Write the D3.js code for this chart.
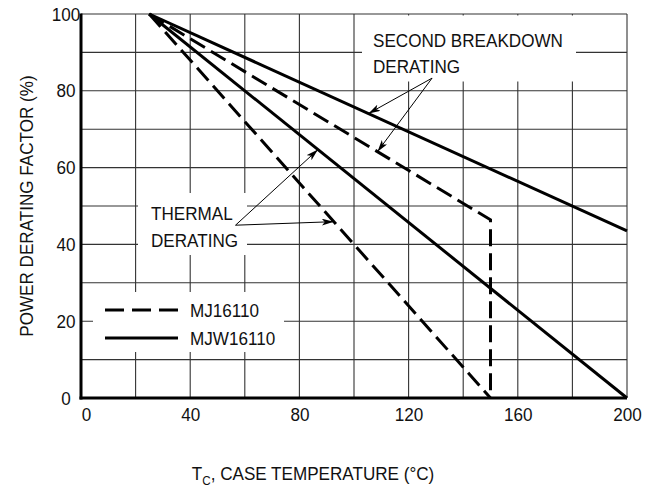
<!DOCTYPE html>
<html><head><meta charset="utf-8">
<script src="https://cdn.jsdelivr.net/npm/d3@7"></script>
<style>
html,body{margin:0;padding:0;background:#fff;}
svg text{font-family:"Liberation Sans",Arial,Helvetica,sans-serif;font-size:19px;fill:#111;}
</style></head>
<body><svg id="c" width="647" height="487"></svg>
<script>
// ---- data ----
const xTickVals = [0, 40, 80, 120, 160, 200];
const yTickVals = [0, 20, 40, 60, 80, 100];
const xGridVals = [0, 20, 40, 60, 80, 100, 120, 140, 160, 180, 200];
const yGridVals = [0, 10, 20, 30, 40, 50, 60, 70, 80, 90, 100];

// MJW16110 (solid) second breakdown derating
const mjwSBTemp = [25, 200];
const mjwSBPct  = [100, 43.5];
// MJ16110 (dashed) second breakdown derating
const mjSBTemp = [25, 150, 150];
const mjSBPct  = [100, 46.4, 0];
// MJW16110 (solid) thermal derating
const mjwThTemp = [25, 200];
const mjwThPct  = [100, 0];
// MJ16110 (dashed) thermal derating
const mjThTemp = [25, 150];
const mjThPct  = [100, 0];

const legendNames = ["MJ16110", "MJW16110"];

// ---- layout ----
const svg = d3.select("#c");
const x = d3.scaleLinear().domain([0, 200]).range([81, 627]);
const y = d3.scaleLinear().domain([0, 100]).range([398, 14]);
const SX = 0.9;
const DASH = "17,7";

function txt(g, px, py, s, anchor) {
  return g.append("text")
    .attr("transform", `translate(${px},${py}) scale(${SX},1)`)
    .attr("text-anchor", anchor || "start")
    .text(s);
}
function pts(T, P) { return T.map((t, i) => [t, P[i]]); }
function interp(T, P, t) {
  for (let i = 0; i < T.length - 1; i++) {
    if (t >= T[i] && t <= T[i + 1] && T[i + 1] !== T[i]) {
      const f = (t - T[i]) / (T[i + 1] - T[i]);
      return P[i] + f * (P[i + 1] - P[i]);
    }
  }
  return P[P.length - 1];
}

// grid
const grid = svg.append("g").attr("stroke", "#333").attr("stroke-width", 1.1);
grid.selectAll(".gx").data(xGridVals).join("line")
  .attr("x1", d => x(d)).attr("x2", d => x(d)).attr("y1", y(0)).attr("y2", y(100));
grid.selectAll(".gy").data(yGridVals).join("line")
  .attr("y1", d => y(d)).attr("y2", d => y(d)).attr("x1", x(0)).attr("x2", x(200));

// white label boxes
const boxes = svg.append("g").attr("fill", "#fff");
boxes.append("rect").attr("x", 362).attr("y", 15.5).attr("width", 214).attr("height", 66);
boxes.append("rect").attr("x", 138).attr("y", 193).attr("width", 109).attr("height", 62);
boxes.append("rect").attr("x", 93).attr("y", 292).attr("width", 191).attr("height", 60);

// axes lines
svg.append("line").attr("x1", x(0)).attr("x2", x(0)).attr("y1", y(100)-0.5).attr("y2", y(0)+1.5)
  .attr("stroke", "#000").attr("stroke-width", 3);
svg.append("line").attr("x1", x(0)-1.5).attr("x2", x(200)).attr("y1", y(0)).attr("y2", y(0))
  .attr("stroke", "#000").attr("stroke-width", 3);

// tick labels via axes
const xa = svg.append("g").attr("transform", `translate(0,${y(0)})`)
  .call(d3.axisBottom(x).tickValues(xTickVals).tickSize(0).tickPadding(10).tickFormat(d3.format("d")));
xa.select(".domain").remove();
xa.selectAll("text").attr("font-size", null).attr("font-family", null)
  .attr("transform", d => `translate(${d === 0 ? 5 : 0},0) scale(${SX},1)`);
xa.attr("font-size", null).attr("font-family", null);

const ya = svg.append("g").attr("transform", `translate(${x(0)},0)`)
  .call(d3.axisLeft(y).tickValues(yTickVals).tickSize(0).tickPadding(0).tickFormat(d3.format("d")));
ya.select(".domain").remove();
ya.attr("font-size", null).attr("font-family", null);
ya.selectAll("text").attr("x", 0).attr("text-anchor", "middle")
  .attr("transform", `translate(-15,0) scale(${SX},1)`);

// data lines
const line = d3.line().x(d => x(d[0])).y(d => y(d[1]));
const lines = svg.append("g").attr("fill", "none").attr("stroke", "#000").attr("stroke-width", 3);
lines.append("path").attr("d", line(pts(mjwSBTemp, mjwSBPct)));
lines.append("path").attr("d", line(pts(mjwThTemp, mjwThPct)));
lines.append("path").attr("d", line(pts(mjSBTemp, mjSBPct))).attr("stroke-dasharray", DASH);
lines.append("path").attr("d", line(pts(mjThTemp, mjThPct))).attr("stroke-dasharray", DASH);

// arrows
const defs = svg.append("defs");
defs.append("marker").attr("id", "ah").attr("markerUnits", "userSpaceOnUse")
  .attr("markerWidth", 14).attr("markerHeight", 10).attr("refX", 12).attr("refY", 3.5)
  .attr("orient", "auto")
  .append("path").attr("d", "M0,0 L12,3.5 L0,7 L3,3.5 Z").attr("fill", "#000");

const arrows = svg.append("g").attr("stroke", "#000").attr("stroke-width", 1).attr("fill", "none");
function arrow(fromT, fromP, T, P, t) {
  arrows.append("line")
    .attr("x1", x(fromT)).attr("y1", y(fromP))
    .attr("x2", x(t)).attr("y2", y(interp(T, P, t)))
    .attr("marker-end", "url(#ah)");
}
arrow(128.6, 83.3, mjwSBTemp, mjwSBPct, 105.3);
arrow(128.6, 83.3, mjSBTemp, mjSBPct, 108.6);
arrow(56.6, 45.0, mjwThTemp, mjwThPct, 86.8);
arrow(56.6, 45.0, mjThTemp, mjThPct, 92.6);

// annotation text
const ann = svg.append("g");
txt(ann, 373, 47, "SECOND BREAKDOWN");
txt(ann, 373, 73, "DERATING");
txt(ann, 151, 220, "THERMAL");
txt(ann, 151, 247, "DERATING");

// legend
const lg = svg.append("g");
lg.append("line").attr("x1", 105).attr("x2", 178).attr("y1", 310).attr("y2", 310)
  .attr("stroke", "#000").attr("stroke-width", 3).attr("stroke-dasharray", "19,8");
lg.append("line").attr("x1", 105).attr("x2", 178).attr("y1", 338).attr("y2", 338)
  .attr("stroke", "#000").attr("stroke-width", 3);
txt(lg, 190, 317, legendNames[0]);
txt(lg, 190, 345, legendNames[1]);

// axis titles
const xt = svg.append("text").attr("transform", `translate(313,480) scale(${SX},1)`).attr("text-anchor", "middle");
xt.append("tspan").text("T");
xt.append("tspan").attr("font-size", "13px").attr("dy", 5).text("C");
xt.append("tspan").attr("dy", -5).text(", CASE TEMPERATURE (°C)");

svg.append("text").attr("transform", `translate(33,206) rotate(-90) scale(${SX},1)`)
  .attr("text-anchor", "middle").text("POWER DERATING FACTOR (%)");
</script></body></html>
